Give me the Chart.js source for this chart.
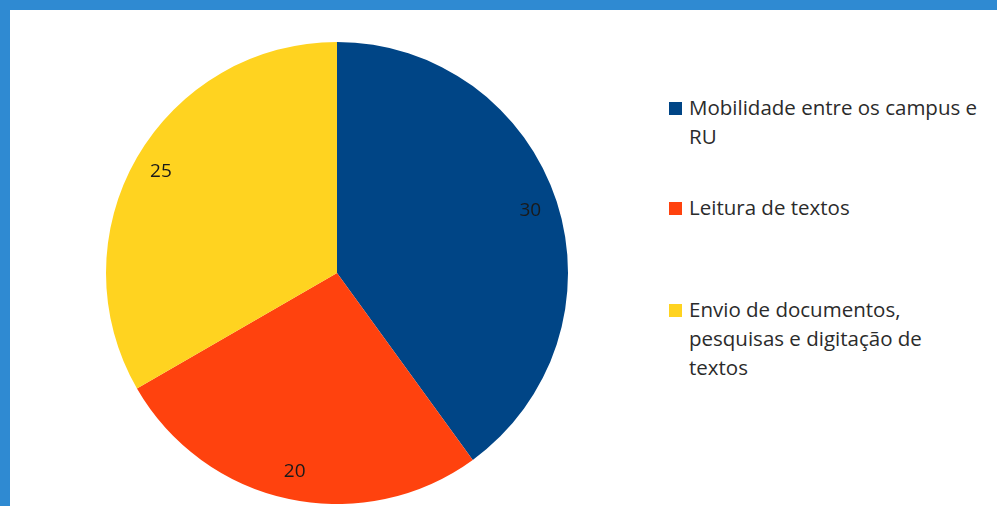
<!DOCTYPE html>
<html>
<head>
<meta charset="utf-8">
<script src="https://cdn.jsdelivr.net/npm/chart.js@4/dist/chart.umd.min.js"></script>
<style>
  html, body { margin:0; padding:0; width:997px; height:506px; overflow:hidden; background:#2f8ad2; }
  #panel { position:absolute; left:10px; top:10px; width:987px; height:496px; background:#ffffff; }
  #pieBox { position:absolute; left:95.5px; top:32px; width:462px; height:462px; }
  #legend { position:absolute; left:0; top:0; font-family:"Open Sans", sans-serif; font-size:20.5px; color:#2b2b2b; }
  .item { position:absolute; left:659px; white-space:nowrap; line-height:29px; }
  .item .sw { position:absolute; left:0; top:9px; width:13px; height:13px; }
  .item .tx { position:absolute; left:20px; top:0; }
</style>
</head>
<body>
<div id="panel">
  <div id="pieBox"><canvas id="c"></canvas></div>
  <div id="legend"></div>
</div>
<script>
const categories = [
  ["Mobilidade entre os campus e", "RU"],
  ["Leitura de textos"],
  ["Envio de documentos,", "pesquisas e digitação de", "textos"]
];
const values = [30, 20, 25];
const colors = ["#004586", "#ff420e", "#ffd320"];

// legend (HTML, built from the arrays)
const legendTops = [83, 183, 285];
const legend = document.getElementById('legend');
categories.forEach((lines, i) => {
  const it = document.createElement('div');
  it.className = 'item';
  it.style.top = legendTops[i] + 'px';
  const sw = document.createElement('div');
  sw.className = 'sw';
  sw.style.background = colors[i];
  const tx = document.createElement('div');
  tx.className = 'tx';
  tx.innerHTML = lines.map(l => l.replace(/&/g,'&amp;')).join('<br>');
  it.appendChild(sw); it.appendChild(tx);
  legend.appendChild(it);
});

const valueLabels = {
  id: 'valueLabels',
  afterDatasetsDraw(chart) {
    const ctx = chart.ctx;
    const meta = chart.getDatasetMeta(0);
    const data = chart.data.datasets[0].data;
    ctx.save();
    ctx.font = '19px "Open Sans", sans-serif';
    ctx.fillStyle = '#1a1a1a';
    ctx.textAlign = 'center';
    ctx.textBaseline = 'middle';
    meta.data.forEach((arc, i) => {
      const p = arc.getProps(['x','y','startAngle','endAngle','outerRadius'], true);
      const mid = (p.startAngle + p.endAngle) / 2;
      const r = p.outerRadius * 0.88;
      ctx.fillText(String(data[i]), p.x + Math.cos(mid) * r, p.y + Math.sin(mid) * r);
    });
    ctx.restore();
  }
};

new Chart(document.getElementById('c'), {
  type: 'pie',
  data: {
    labels: categories.map(l => l.join(' ')),
    datasets: [{
      data: values,
      backgroundColor: colors,
      borderWidth: 0,
      hoverOffset: 0
    }]
  },
  options: {
    responsive: true,
    maintainAspectRatio: false,
    animation: false,
    layout: { padding: 0 },
    plugins: {
      legend: { display: false },
      tooltip: { enabled: false }
    }
  },
  plugins: [valueLabels]
});
</script>
</body>
</html>
